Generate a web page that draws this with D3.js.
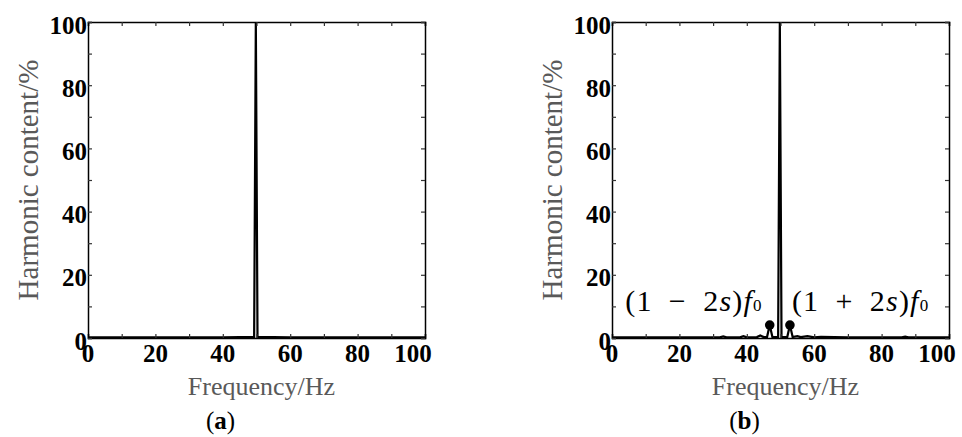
<!DOCTYPE html>
<html><head><meta charset="utf-8">
<script src="https://cdn.jsdelivr.net/npm/d3@7"></script>
<style>body{margin:0;background:#fff}svg{display:block}</style>
</head><body>
<svg id="chart" width="962" height="437"></svg>
<script>
// Data
const xTicks = [0, 20, 40, 60, 80, 100];
const yTicks = [0, 20, 40, 60, 80, 100];
const freqA = [0, 10, 20, 30, 40, 45, 49.3, 49.8, 50.3, 55, 60, 70, 80, 90, 100];
const valA  = [0.2, 0.2, 0.2, 0.2, 0.2, 0.3, 0.3, 100, 0.3, 0.3, 0.2, 0.2, 0.2, 0.2, 0.2];
const freqB = [0, 10, 20, 30, 32, 33, 34, 38, 39, 40, 43, 44, 45, 46, 46.8, 47.6, 49.3, 49.8, 50.3, 52, 52.8, 53.6, 55, 56, 58, 60, 62, 70, 80, 86, 87, 88, 100];
const valB  = [0.2, 0.2, 0.2, 0.2, 0.2, 0.5, 0.2, 0.2, 0.6, 0.2, 0.3, 0.8, 0.3, 0.3, 4.1, 0.3, 0.3, 100, 0.3, 0.3, 4.1, 0.3, 0.6, 0.3, 0.6, 0.2, 0.4, 0.2, 0.2, 0.2, 0.4, 0.2, 0.2];
const sideFreq = [46.8, 52.8];
const sideVal  = [4.1, 4.1];
const panelLabels = ["a", "b"];
const xTitle = "Frequency/Hz";
const yTitle = "Harmonic content/%";

const svg = d3.select("#chart");
const serif = "'Liberation Serif','Times New Roman',serif";
const titleColor = "#595959";

function panel(left, freq, val, label, withSidebands) {
  const top = 22, bottom = 338, right = left + 337;
  const x = d3.scaleLinear().domain([0, 100]).range([left, right]);
  const y = d3.scaleLinear().domain([0, 100]).range([bottom, top]);
  const g = svg.append("g");

  g.append("path")
    .datum(freq.map((f, i) => [f, val[i]]))
    .attr("fill", "none").attr("stroke", "#000").attr("stroke-width", 2.2)
    .attr("stroke-linejoin", "miter")
    .attr("d", d3.line().x(d => x(d[0])).y(d => y(d[1])));

  if (withSidebands) {
    g.selectAll("circle.sb").data(sideFreq).enter().append("circle")
      .attr("cx", d => x(d)).attr("cy", (d, i) => y(sideVal[i])).attr("r", 4.8).attr("fill", "#000");
  }

  const minor = d3.range(0, 101, 10);
  const axB = g.append("g").attr("transform", `translate(0,${bottom})`)
    .call(d3.axisBottom(x).tickValues(minor).tickSize(-4).tickFormat(""));
  const axT = g.append("g").attr("transform", `translate(0,${top})`)
    .call(d3.axisTop(x).tickValues(minor).tickSize(-4).tickFormat(""));
  const axL = g.append("g").attr("transform", `translate(${left},0)`)
    .call(d3.axisLeft(y).tickValues(minor).tickSize(-4).tickFormat(""));
  const axR = g.append("g").attr("transform", `translate(${right},0)`)
    .call(d3.axisRight(y).tickValues(minor).tickSize(-4).tickFormat(""));
  [axB, axT, axL, axR].forEach(a => {
    a.select(".domain").attr("stroke", "#000").attr("stroke-width", 1.5);
    a.selectAll(".tick line").attr("stroke", "#333").attr("stroke-width", 1.2);
  });

  g.selectAll("text.xt").data(xTicks).enter().append("text")
    .attr("x", d => x(d) + (d === 100 ? -12 : 0)).attr("y", bottom + 24)
    .attr("text-anchor", "middle").attr("font-family", serif).attr("font-weight", "bold")
    .attr("font-size", 25).attr("fill", "#000").text(d => d);
  g.selectAll("text.yt").data(yTicks).enter().append("text")
    .attr("x", left - 1).attr("y", d => y(d) + 11.5)
    .attr("text-anchor", "end").attr("font-family", serif).attr("font-weight", "bold")
    .attr("font-size", 25).attr("fill", "#000").text(d => d);

  g.append("text").attr("x", (left + right) / 2 + 5).attr("y", 395)
    .attr("text-anchor", "middle").attr("font-family", serif).attr("font-size", 26)
    .attr("fill", titleColor).text(xTitle);
  g.append("text").attr("transform", `translate(${left - 50},${(top + bottom) / 2}) rotate(-90)`)
    .attr("text-anchor", "middle").attr("font-family", serif).attr("font-size", 29)
    .attr("fill", titleColor).text(yTitle);

  const pl = g.append("text").attr("x", (left + right) / 2 - 36).attr("y", 429)
    .attr("text-anchor", "middle").attr("font-family", serif).attr("font-size", 25).attr("fill", "#000");
  pl.append("tspan").text("(");
  pl.append("tspan").attr("font-weight", "bold").text(label);
  pl.append("tspan").text(")");

  if (withSidebands) {
    const t1 = g.append("text").attr("x", x(sideFreq[0]) - 7).attr("y", 311)
      .attr("text-anchor", "end").attr("font-family", serif).attr("font-size", 30)
      .attr("letter-spacing", 1.2).attr("fill", "#000");
    t1.append("tspan").text("(1\u2002−\u20022");
    t1.append("tspan").attr("font-style", "italic").text("s");
    t1.append("tspan").text(")");
    t1.append("tspan").attr("font-style", "italic").text("f");
    t1.append("tspan").attr("font-size", 17).text("0");
    const t2 = g.append("text").attr("x", x(sideFreq[1]) + 2).attr("y", 311)
      .attr("text-anchor", "start").attr("font-family", serif).attr("font-size", 30)
      .attr("letter-spacing", 1.2).attr("fill", "#000");
    t2.append("tspan").text("(1\u2002+\u20022");
    t2.append("tspan").attr("font-style", "italic").text("s");
    t2.append("tspan").text(")");
    t2.append("tspan").attr("font-style", "italic").text("f");
    t2.append("tspan").attr("font-size", 17).text("0");
  }
}

panel(88, freqA, valA, panelLabels[0], false);
panel(612, freqB, valB, panelLabels[1], true);
</script>
</body></html>
